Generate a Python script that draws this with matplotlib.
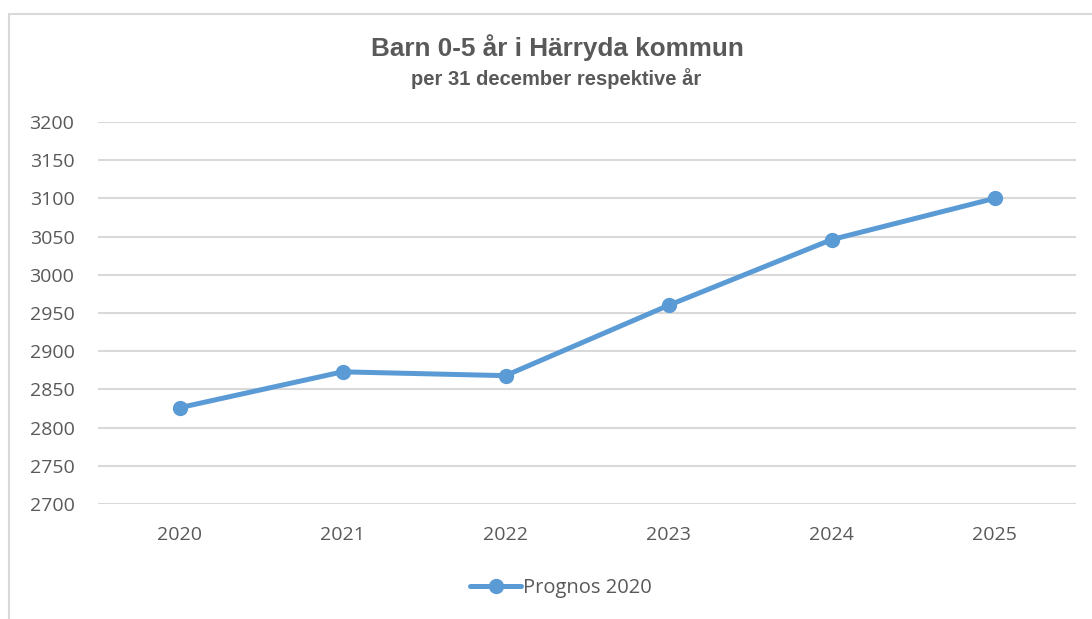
import matplotlib
matplotlib.use('Agg')
import matplotlib.pyplot as plt
from matplotlib.patches import Rectangle

# Data
years = ['2020', '2021', '2022', '2023', '2024', '2025']
prognos_2020 = [2826, 2873, 2868, 2960, 3046, 3100]
y_ticks = [2700, 2750, 2800, 2850, 2900, 2950, 3000, 3050, 3100, 3150, 3200]

W, H = 1092, 619
line_color = '#5B9BD5'
text_color = '#595959'
grid_color = '#D9D9D9'

fig = plt.figure(figsize=(W / 100, H / 100), dpi=100)

# outer chart border (cut off at right/bottom in the original)
fig.patches.append(Rectangle((9 / W, -0.05), 1.1, 1 - 14 / H + 0.05,
                             transform=fig.transFigure, fill=False,
                             edgecolor=grid_color, linewidth=1.5))

ax = fig.add_axes([98 / W, 1 - 504 / H, (1076 - 98) / W, (504 - 122) / H])
x = list(range(len(years)))
ax.plot(x, prognos_2020, color=line_color, linewidth=3.6, marker='o',
        markersize=10, solid_capstyle='round', label='Prognos 2020', zorder=3)

ax.set_xlim(-0.5, len(years) - 0.5)
ax.set_ylim(2700, 3200)
ax.set_yticks(y_ticks)
ax.set_xticks(x)
ax.set_xticklabels(years)
ax.grid(axis='y', color=grid_color, linewidth=1.5)
ax.set_axisbelow(True)
for s in ax.spines.values():
    s.set_visible(False)
ax.tick_params(length=0, labelsize=14, labelcolor=text_color)
ax.tick_params(axis='y', pad=17)
ax.tick_params(axis='x', pad=16)
for lbl in ax.get_xticklabels() + ax.get_yticklabels():
    lbl.set_fontfamily('Open Sans')

fig.text(557 / W, 1 - 48 / H, 'Barn 0-5 år i Härryda kommun',
         ha='center', va='center', fontsize=18.8, fontweight='bold',
         color=text_color, family='Liberation Sans')
fig.text(556 / W, 1 - 79 / H, 'per 31 december respektive år',
         ha='center', va='center', fontsize=14.5, fontweight='bold',
         color=text_color, family='Liberation Sans')

leg = fig.legend(loc='center', bbox_to_anchor=(561 / W, 1 - 588 / H),
                 frameon=False, handlelength=2.5, handletextpad=0.1,
                 prop={'family': 'Open Sans', 'size': 14.5})
for t in leg.get_texts():
    t.set_color(text_color)

fig.savefig('out.png', dpi=100)
